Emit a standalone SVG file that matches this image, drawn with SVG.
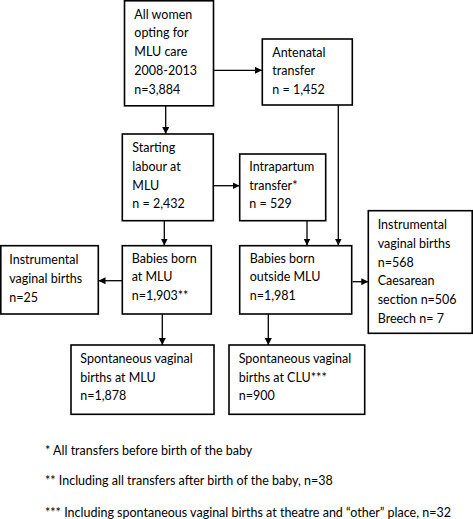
<svg xmlns="http://www.w3.org/2000/svg" width="473" height="519" viewBox="0 0 473 519">
<style>
.box{fill:#fff;stroke:#000;stroke-width:1.6}
text{font-family:Lato,"Open Sans","Liberation Sans",sans-serif;font-size:12.5px;fill:#000}
.ln{stroke:#000;stroke-width:1.3;fill:none;marker-end:url(#ah)}
</style>
<defs>
<marker id="ah" viewBox="0 0 10 10" refX="10" refY="5" markerWidth="7" markerHeight="7" markerUnits="userSpaceOnUse" orient="auto">
<path d="M0,0 L10,5 L0,10 Z" fill="#000"/>
</marker>
</defs>
<rect width="473" height="519" fill="#fff"/>
<g id="connectors">
<line class="ln" x1="214" y1="70.3" x2="262" y2="70.3"/>
<line class="ln" x1="165.7" y1="106" x2="165.7" y2="134"/>
<line class="ln" x1="214" y1="185.7" x2="239.5" y2="185.7"/>
<line class="ln" x1="338.3" y1="105" x2="338.3" y2="245.5"/>
<line class="ln" x1="164.3" y1="221" x2="164.3" y2="245.5"/>
<line class="ln" x1="307" y1="221" x2="307" y2="245.5"/>
<line class="ln" x1="122" y1="280.7" x2="98.5" y2="280.7"/>
<line class="ln" x1="352.5" y1="281.7" x2="368.3" y2="281.7"/>
<line class="ln" x1="162.3" y1="314" x2="162.3" y2="345"/>
<line class="ln" x1="268.3" y1="314" x2="268.3" y2="345"/>
</g>
<g id="n1"><rect class="box" x="124.5" y="0.8" width="89" height="105"/>
<text x="134.3" y="18.7">All women</text><text x="134.3" y="37.4">opting for</text><text x="134.3" y="56.2">MLU care</text><text x="134.3" y="74.9">2008-2013</text><text x="134.3" y="93.7">n=3,884</text></g>
<g id="n2"><rect class="box" x="262.3" y="39" width="90" height="66"/>
<text x="272.3" y="56.7">Antenatal</text><text x="272.3" y="75.4">transfer</text><text x="272.3" y="94.2">n = 1,452</text></g>
<g id="n3"><rect class="box" x="122.3" y="134" width="91" height="86.7"/>
<text x="132.3" y="152.1">Starting</text><text x="132.3" y="170.9">labour at</text><text x="132.3" y="189.7">MLU</text><text x="132.3" y="208.4">n = 2,432</text></g>
<g id="n4"><rect class="box" x="239.7" y="154" width="86" height="66.7"/>
<text x="249.3" y="170.9">Intrapartum</text><text x="249.3" y="189.7">transfer*</text><text x="249.3" y="208.4">n = 529</text></g>
<g id="n5"><rect class="box" x="0.8" y="245.7" width="97.5" height="68.3"/>
<text x="9.3" y="264.2">Instrumental</text><text x="9.3" y="283">vaginal births</text><text x="9.3" y="301.8">n=25</text></g>
<g id="n6"><rect class="box" x="122.3" y="245.7" width="89" height="68.3"/>
<text x="131.7" y="262.5">Babies born</text><text x="131.7" y="281.2">at MLU</text><text x="131.7" y="300">n=1,903**</text></g>
<g id="n7"><rect class="box" x="239.7" y="245.7" width="112" height="68.3"/>
<text x="249.7" y="262.5">Babies born</text><text x="249.7" y="281.2">outside MLU</text><text x="249.7" y="300">n=1,981</text></g>
<g id="n8"><rect class="box" x="368.3" y="210.7" width="103.9" height="122.6"/>
<text x="377.7" y="229.2">Instrumental</text><text x="377.7" y="248">vaginal births</text><text x="377.7" y="266.7">n=568</text><text x="377.7" y="285.4">Caesarean</text><text x="377.7" y="304.1">section n=506</text><text x="377.7" y="322.8">Breech n= 7</text></g>
<g id="n9"><rect class="box" x="71" y="345" width="143" height="69.3"/>
<text x="80.3" y="363.2">Spontaneous vaginal</text><text x="80.3" y="381.6">births at MLU</text><text x="80.3" y="400">n=1,878</text></g>
<g id="n10"><rect class="box" x="229" y="345" width="135.7" height="69.3"/>
<text x="238.7" y="363.2">Spontaneous vaginal</text><text x="238.7" y="381.6">births at CLU***</text><text x="238.7" y="400">n=900</text></g>
<g id="notes">
<text x="45" y="454.9">* All transfers before birth of the baby</text>
<text x="45" y="484.9">** Including all transfers after birth of the baby, n=38</text>
<text x="45" y="516.9">*** Including spontaneous vaginal births at theatre and “other” place, n=32</text>
</g>
</svg>
